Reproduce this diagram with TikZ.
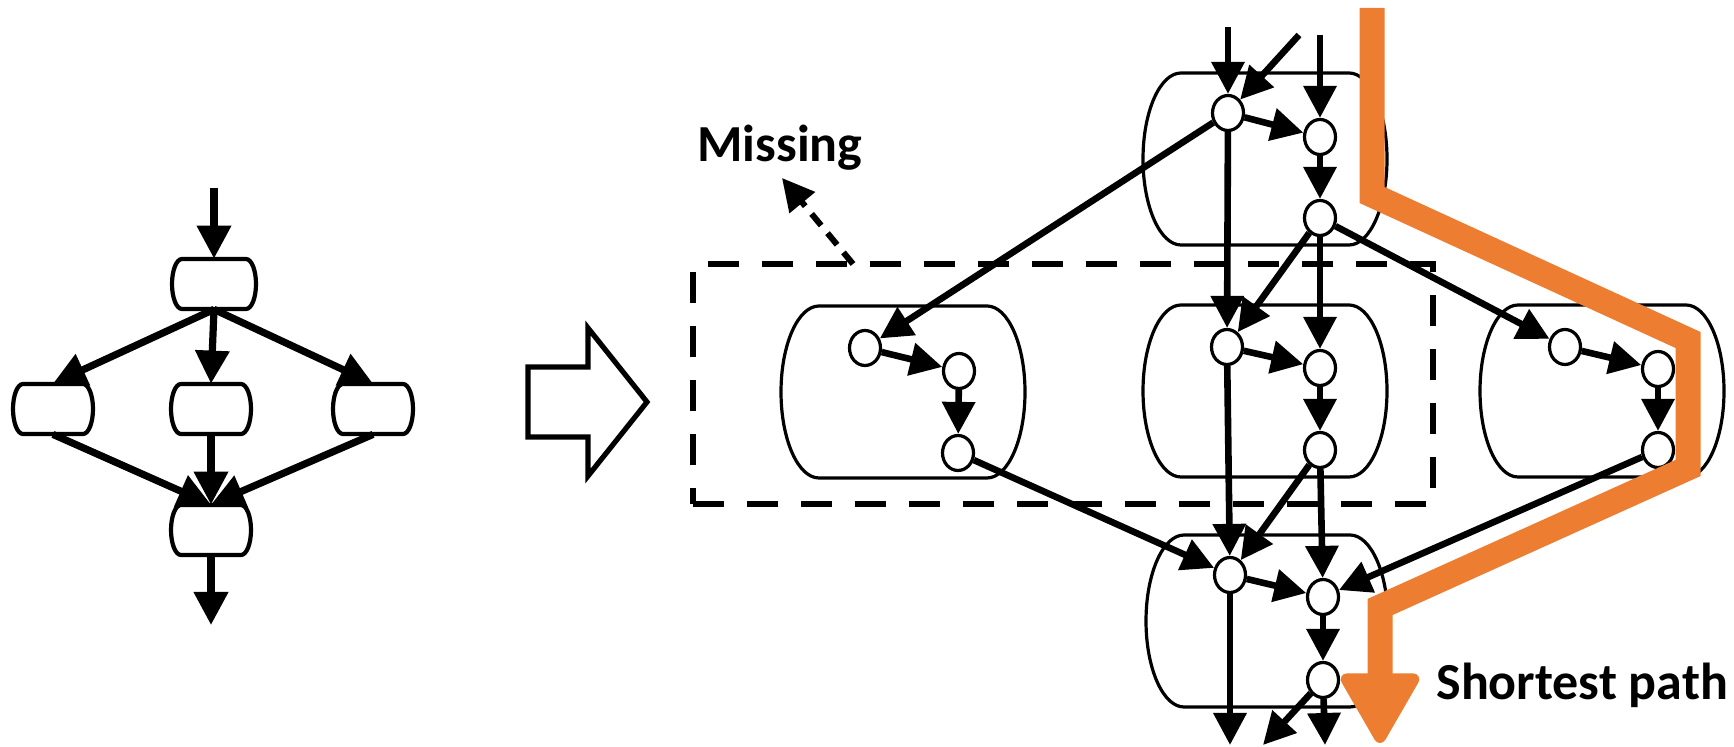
\documentclass[tikz,border=0pt]{standalone}
\usepackage{fontspec}
\setmainfont{Carlito}
\usetikzlibrary{arrows.meta,shapes.geometric}
\definecolor{pathorange}{RGB}{237,125,49}

% barrel-shaped block: style, name, centre x, centre y, half width, half height, side bulge
\newcommand\drawbarrel[7]{%
  \pgfmathsetmacro\bxl{#3-#5}%
  \pgfmathsetmacro\bxr{#3+#5}%
  \pgfmathsetmacro\byt{#4-#6}%
  \pgfmathsetmacro\byb{#4+#6}%
  \pgfmathsetmacro\bil{#3-#5+#7}%
  \pgfmathsetmacro\bir{#3+#5-#7}%
  \pgfmathsetmacro\bkl{#3-#5+0.4477*#7}%
  \pgfmathsetmacro\bkr{#3+#5-0.4477*#7}%
  \pgfmathsetmacro\bkt{#4-0.5523*#6}%
  \pgfmathsetmacro\bkb{#4+0.5523*#6}%
  \node[inner sep=0pt, minimum width=#5pt, minimum height=#6pt] (#2) at (#3,#4) {};
  \draw[#1] (\bil,\byt) -- (\bir,\byt)
    .. controls (\bkr,\byt) and (\bxr,\bkt) .. (\bxr,#4)
    .. controls (\bxr,\bkb) and (\bkr,\byb) .. (\bir,\byb)
    -- (\bil,\byb)
    .. controls (\bkl,\byb) and (\bxl,\bkb) .. (\bxl,#4)
    .. controls (\bxl,\bkt) and (\bkl,\byt) .. (\bil,\byt) -- cycle;
}

\begin{document}
\begin{tikzpicture}[x=0.5pt,y=-0.5pt,
  state/.style={ellipse, draw, fill=white, line width=1.6pt,
    minimum width=15.5pt, minimum height=17.5pt, inner sep=0pt},
  flow/.style={line width=3.3pt, -{Triangle[length=16pt,width=16pt]}},
  bigflow/.style={line width=3.6pt, -{Triangle[length=16.5pt,width=16.5pt]}},
  barrelline/.style={line width=1.6pt},
  blockline/.style={line width=2.1pt},
  caption/.style={font=\bfseries\fontsize{26pt}{30pt}\selectfont, inner sep=0pt},
  shortest/.style={pathorange, line width=12.5pt, line join=miter,
    -{Triangle[length=38pt,width=42pt,round,line width=6pt]}}
]
\useasboundingbox (0,0) rectangle (1734,747);

% ---------- small task graph ----------
\drawbarrel{blockline}{ta}{214}{284}{42}{25}{10}
\drawbarrel{blockline}{tb}{53}{409}{40}{25}{10}
\drawbarrel{blockline}{tc}{211}{409}{40}{25}{10}
\drawbarrel{blockline}{td}{373}{409}{40}{25}{10}
\drawbarrel{blockline}{te}{211}{530}{40}{25}{10}
\coordinate (tin) at (214,188);
\coordinate (tout) at (211,625);
\draw[bigflow] (tin) -- (ta.north);
\draw[bigflow] (ta.south) -- (tb.north);
\draw[bigflow] (ta.south) -- (tc.north);
\draw[bigflow] (ta.south) -- (td.north);
\draw[bigflow] (tb.south) -- (te.north);
\draw[bigflow] (tc.south) -- (te.north);
\draw[bigflow] (td.south) -- (te.north);
\draw[bigflow] (te.south) -- (tout);

% ---------- hollow transformation arrow ----------
\draw[line width=2.6pt, line join=miter] (528,367) -- (588,367) -- (588,328)
  -- (647,402) -- (588,476) -- (588,437) -- (528,437) -- cycle;

% ---------- expanded graph: blocks ----------
\drawbarrel{barrelline}{ctop}{1265}{159}{122}{86}{38}
\drawbarrel{barrelline}{cleft}{903}{392}{122}{86}{38}
\drawbarrel{barrelline}{cmid}{1265}{391}{122}{86}{38}
\drawbarrel{barrelline}{cright}{1602}{391}{122}{86}{38}
\drawbarrel{barrelline}{cbot}{1267}{621}{121}{86}{38}

% region that is missing
\node[draw, line width=3pt, dash pattern=on 15.5pt off 11.5pt,
  minimum width=370pt, minimum height=120pt, inner sep=0pt] (missbox) at (1063,384) {};
\node[caption, anchor=base west] (misstext) at (697,162) {Missing};
\coordinate (missfoot) at (853,264);
\coordinate (misstip) at (782,178);
\draw[line width=3pt, dash pattern=on 7.5pt off 5pt,
  -{Triangle[length=16pt,width=16pt]}] (missfoot) -- (misstip);

% ---------- expanded graph: states ----------
\node[state] (n1) at (1228,113) {};
\node[state] (n2) at (1320,137) {};
\node[state] (n3) at (1320,218) {};
\node[state] (l1) at (865,348) {};
\node[state] (l2) at (959,371) {};
\node[state] (l3) at (958,453) {};
\node[state] (m1) at (1227,347) {};
\node[state] (m2) at (1320,368) {};
\node[state] (m3) at (1320,450) {};
\node[state] (r1) at (1565,347) {};
\node[state] (r2) at (1658,369) {};
\node[state] (r3) at (1658,450) {};
\node[state] (b1) at (1230,575) {};
\node[state] (b2) at (1323,597) {};
\node[state] (b3) at (1323,680) {};

\coordinate (ina) at (1228,27);
\coordinate (inb) at (1299,35);
\coordinate (inc) at (1320,35);
\coordinate (outa) at (1230,745);
\coordinate (outb) at (1263,745);
\coordinate (outc) at (1325,745);

% ---------- expanded graph: transitions ----------
\draw[flow] (ina) -- (n1);
\draw[flow] (inb) -- (n1);
\draw[flow] (inc) -- (n2);
\draw[flow] (n1) -- (n2);
\draw[flow] (n2) -- (n3);
\draw[flow] (n1) -- (l1);
\draw[flow] (n1) -- (m1);
\draw[flow] (n3) -- (m1);
\draw[flow] (n3) -- (m2);
\draw[flow] (n3) -- (r1);
\draw[flow] (l1) -- (l2);
\draw[flow] (l2) -- (l3);
\draw[flow] (m1) -- (m2);
\draw[flow] (m2) -- (m3);
\draw[flow] (r1) -- (r2);
\draw[flow] (r2) -- (r3);
\draw[flow] (l3) -- (b1);
\draw[flow] (m1) -- (b1);
\draw[flow] (m3) -- (b1);
\draw[flow] (m3) -- (b2);
\draw[flow] (r3) -- (b2);
\draw[flow] (b1) -- (b2);
\draw[flow] (b2) -- (b3);
\draw[flow] (b1) -- (outa);
\draw[flow] (b3) -- (outb);
\draw[flow] (b3) -- (outc);

% ---------- shortest path ----------
\coordinate (p0) at (1372,8);
\coordinate (p1) at (1372,195);
\coordinate (p2) at (1688,340);
\coordinate (p3) at (1688,468);
\coordinate (p4) at (1380,607);
\coordinate (p5) at (1380,743);
\draw[shortest] (p0) -- (p1) -- (p2) -- (p3) -- (p4) -- (p5);
\node[caption, anchor=base west] (shorttext) at (1436,699) {Shortest path};
\end{tikzpicture}
\end{document}
